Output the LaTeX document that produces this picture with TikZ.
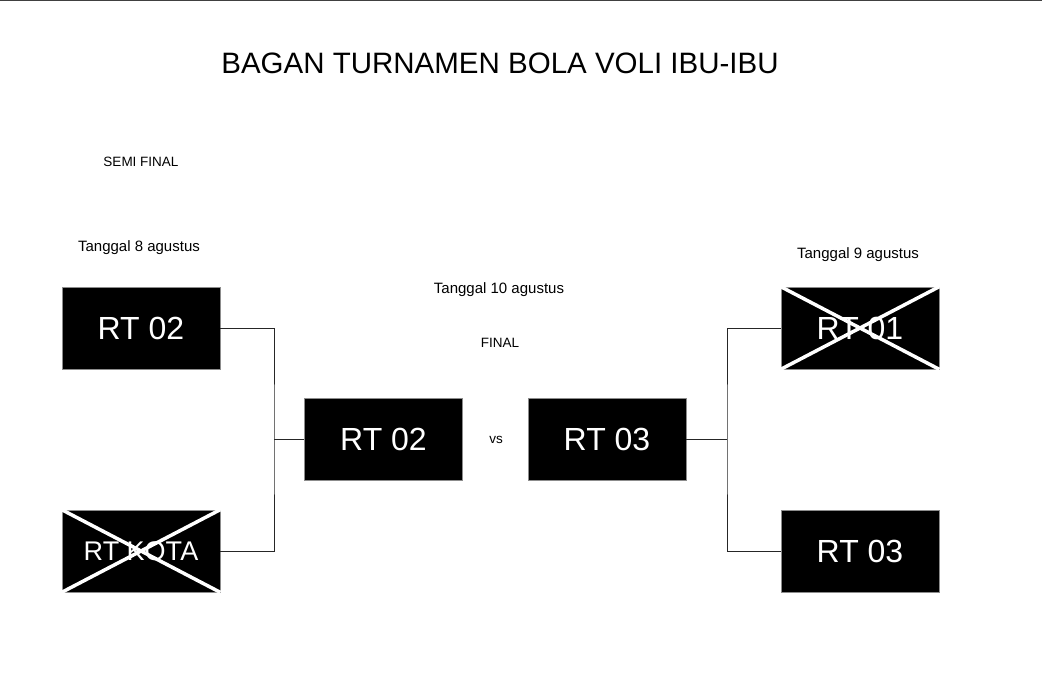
\documentclass[tikz,border=0pt]{standalone}
\usepackage{fontspec}
\setmainfont{Liberation Sans}
\begin{document}
\begin{tikzpicture}[x=1pt,y=-1pt,
  team/.style={draw=black!45, line width=0.8pt, fill=black, text=white,
    minimum width=158pt, minimum height=82pt, inner sep=0pt,
    font=\fontsize{32}{36}\selectfont},
  lbl/.style={inner sep=0pt, font=\fontsize{15}{18}\selectfont},
  slbl/.style={inner sep=0pt, font=\fontsize{13.5}{16}\selectfont},
  conn/.style={draw=black!85, line width=0.9pt},
  cross/.style={draw=white, line width=3.5pt}]
\useasboundingbox (0,0) rectangle (1042,685);
\draw[black!75, line width=1.5pt] (0,0.75) -- (1042,0.75);
\node[inner sep=0pt, font=\fontsize{29.5}{34}\selectfont] (title) at (500,63) {BAGAN TURNAMEN BOLA VOLI IBU-IBU};
\node[slbl] (semi) at (141,162) {SEMI FINAL};
\node[lbl] (t8) at (139,248) {Tanggal 8 agustus};
\node[lbl] (t10) at (499,290) {Tanggal 10 agustus};
\node[slbl] (final) at (500,343) {FINAL};
\node[lbl] (t9) at (858,255) {Tanggal 9 agustus};
\node[slbl] (vs) at (496,440) {vs};

\node[team] (a) at (141,328) {RT 02};
\node[team, font=\fontsize{27}{30}\selectfont] (b) at (141,551) {RT KOTA};
\node[team] (f1) at (383.5,439) {RT 02};
\node[team] (f2) at (607,439) {RT 03};
\node[team] (c) at (860,328) {RT 01};
\node[team] (d) at (860,551) {RT 03};

\draw[cross] (b.north west) -- (b.south east);
\draw[cross] (b.south west) -- (b.north east);
\draw[cross] (c.north west) -- (c.south east);
\draw[cross] (c.south west) -- (c.north east);

\coordinate (lj) at (274,439);
\coordinate (rj) at (727,439);
\draw[conn] (a.east) -| (lj) |- (b.east);
\draw[conn] (lj) -- (f1.west);
\draw[conn] (c.west) -| (rj) |- (d.west);
\draw[conn] (f2.east) -- (rj);
\end{tikzpicture}
\end{document}
